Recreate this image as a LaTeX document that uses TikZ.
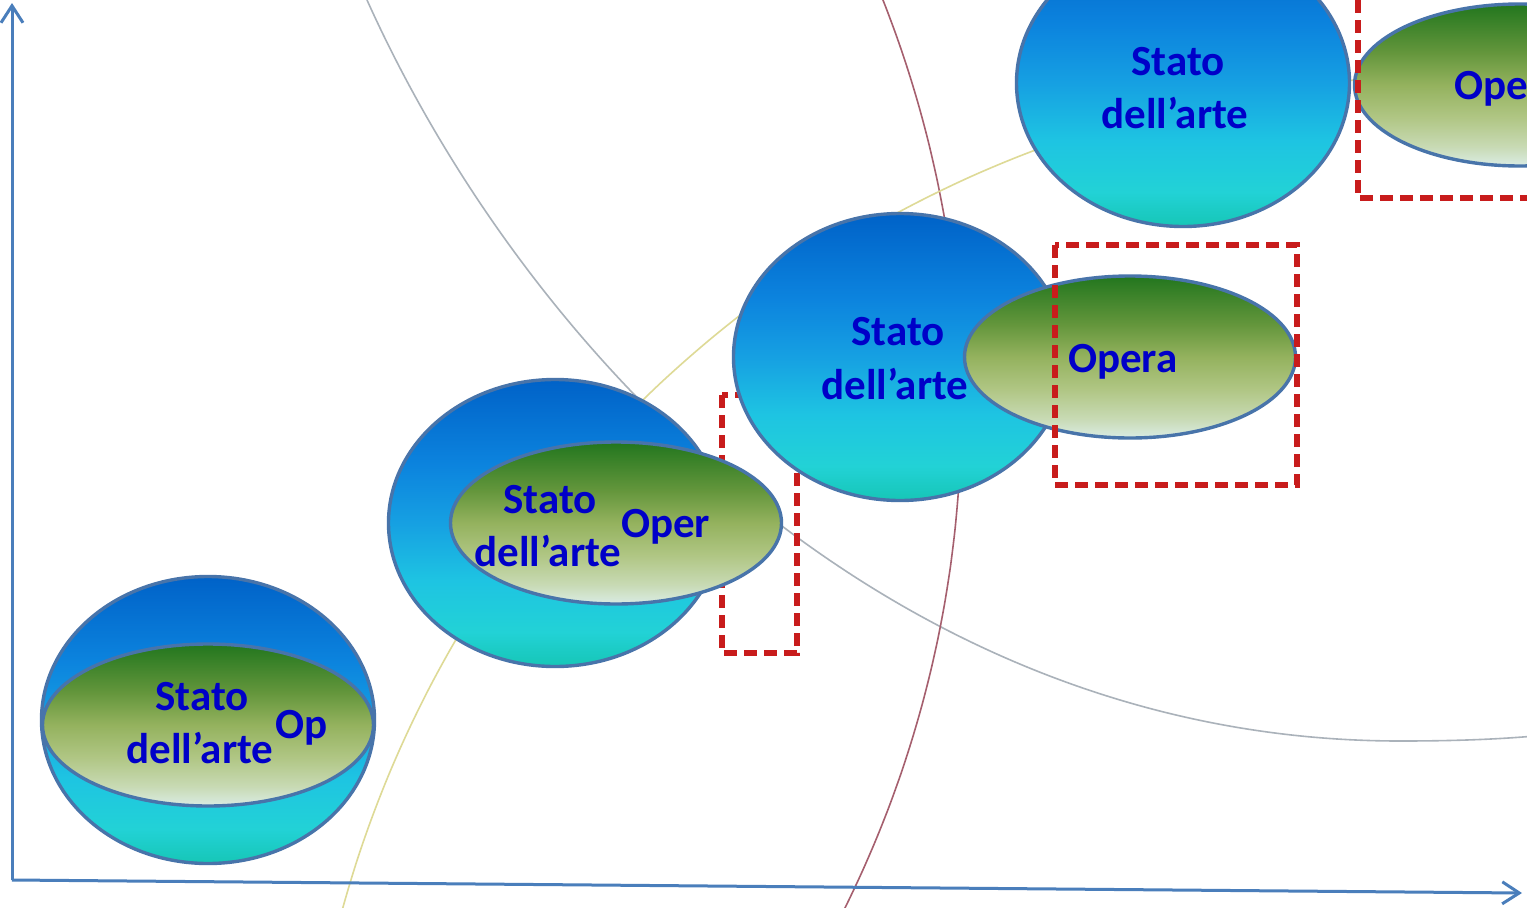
\documentclass[tikz,border=0pt]{standalone}
\usepackage{fontspec}
\setmainfont{Carlito}
\usetikzlibrary{arrows.meta,shapes.geometric}
\definecolor{axisblue}{RGB}{74,126,187}
\definecolor{edgeblue}{RGB}{72,116,170}
\definecolor{dashred}{RGB}{200,28,28}
\definecolor{txtblue}{RGB}{0,0,200}
\definecolor{arcgray}{RGB}{170,178,186}
\definecolor{arcred}{RGB}{165,95,110}
\definecolor{arcyellow}{RGB}{222,218,150}
\definecolor{bb0}{RGB}{22,198,182}
\definecolor{bb1}{RGB}{34,210,214}
\definecolor{bb2}{RGB}{30,196,226}
\definecolor{bb3}{RGB}{22,160,226}
\definecolor{bb4}{RGB}{12,132,222}
\definecolor{bb5}{RGB}{0,98,200}
\definecolor{gg0}{RGB}{218,236,228}
\definecolor{gg1}{RGB}{200,218,180}
\definecolor{gg2}{RGB}{176,198,132}
\definecolor{gg3}{RGB}{148,178,94}
\definecolor{gg4}{RGB}{100,150,60}
\definecolor{gg5}{RGB}{34,118,30}
\pgfdeclareverticalshading{bluesh}{100bp}{color(0bp)=(bb0); color(25bp)=(bb0); color(31bp)=(bb1); color(40bp)=(bb2); color(50bp)=(bb3); color(60bp)=(bb4); color(75bp)=(bb5); color(100bp)=(bb5)}
\pgfdeclareverticalshading{greensh}{100bp}{color(0bp)=(gg0); color(25bp)=(gg0); color(31bp)=(gg1); color(40bp)=(gg2); color(50bp)=(gg3); color(60bp)=(gg4); color(75bp)=(gg5); color(100bp)=(gg5)}
\tikzset{
  bluebody/.style={ellipse, draw=edgeblue, line width=3.4pt, shade, shading=bluesh, minimum width=333pt, minimum height=287pt, inner sep=0pt},
  greenbody/.style={ellipse, draw=edgeblue, line width=3.4pt, shade, shading=greensh, minimum width=331pt, minimum height=162pt, inner sep=0pt},
  lbl/.style={text=txtblue, font=\fontsize{43pt}{50pt}\selectfont\bfseries, inner sep=0pt},
  dashbox/.style={draw=dashred, line width=5.2pt, dash pattern=on 13pt off 7pt},
  axis/.style={draw=axisblue, line width=3pt, -{Straight Barb[length=17pt,width=22pt]}},
  thinarc/.style={line width=1.6pt}
}
\begin{document}
\begin{tikzpicture}[x=1pt,y=-1pt]
\useasboundingbox (0,0) rectangle (1527,908);
\clip (0,0) rectangle (1527,908);
\fill[white] (0,0) rectangle (1527,908);
% background arcs
\draw[thinarc, draw=arcgray] (367,0) .. controls (531,364) and (900,741) .. (1400,741) .. controls (1460,741) and (1500,739) .. (1535,736);
\draw[thinarc, draw=arcred] plot[domain=-23:28, samples=80, smooth, variable=\t] ({-157.7+1119*cos(\t)}, {411.2+1119*sin(\t)});
\draw[thinarc, draw=arcyellow] plot[domain=193:275, samples=100, smooth, variable=\t] ({1434.9+1133.3*cos(\t)}, {1210.5+1133.3*sin(\t)});
% dashed box behind
\draw[dashbox] (722,395) rectangle (797,653);
% blob 1
\node[bluebody] (s1) at (208,720) {};
\node[greenbody] (g1) at (208,725) {};
% blob 2
\node[bluebody] (s2) at (555,523) {};
\node[greenbody] (g2) at (616,523) {};
% blob 3
\node[bluebody] (s3) at (900,357) {};
\node[greenbody] (g3) at (1130,357) {};
\draw[dashbox] (1055,245) rectangle (1297,485);
% blob 4
\node[bluebody] (s4) at (1183,83) {};
\node[greenbody] (g4) at (1520,85) {};
\draw[dashbox] (1358,-20) rectangle (1560,198);
% labels
\node[lbl, anchor=base] (t1a) at (202,710) {Stato};
\node[lbl, anchor=base] (t1b) at (200,763) {dell’arte};
\node[lbl, anchor=base west] (o1) at (275,738) {Op};
\node[lbl, anchor=base] (t2a) at (550,513) {Stato};
\node[lbl, anchor=base] (t2b) at (548,566) {dell’arte};
\node[lbl, anchor=base west] (o2) at (621,537) {Oper};
\node[lbl, anchor=base] (t3a) at (898,345) {Stato};
\node[lbl, anchor=base] (t3b) at (895,399) {dell’arte};
\node[lbl, anchor=base west] (o3) at (1068,372) {Opera};
\node[lbl, anchor=base] (t4a) at (1178,75) {Stato};
\node[lbl, anchor=base] (t4b) at (1175,128) {dell’arte};
\node[lbl, anchor=base west] (o4) at (1454,99) {Ope};
% axes
\coordinate (o) at (12,880);
\coordinate (ytop) at (12,3);
\coordinate (xend) at (1522,893);
\draw[axis] (o) -- (ytop);
\draw[axis] (o) -- (xend);
\end{tikzpicture}
\end{document}
